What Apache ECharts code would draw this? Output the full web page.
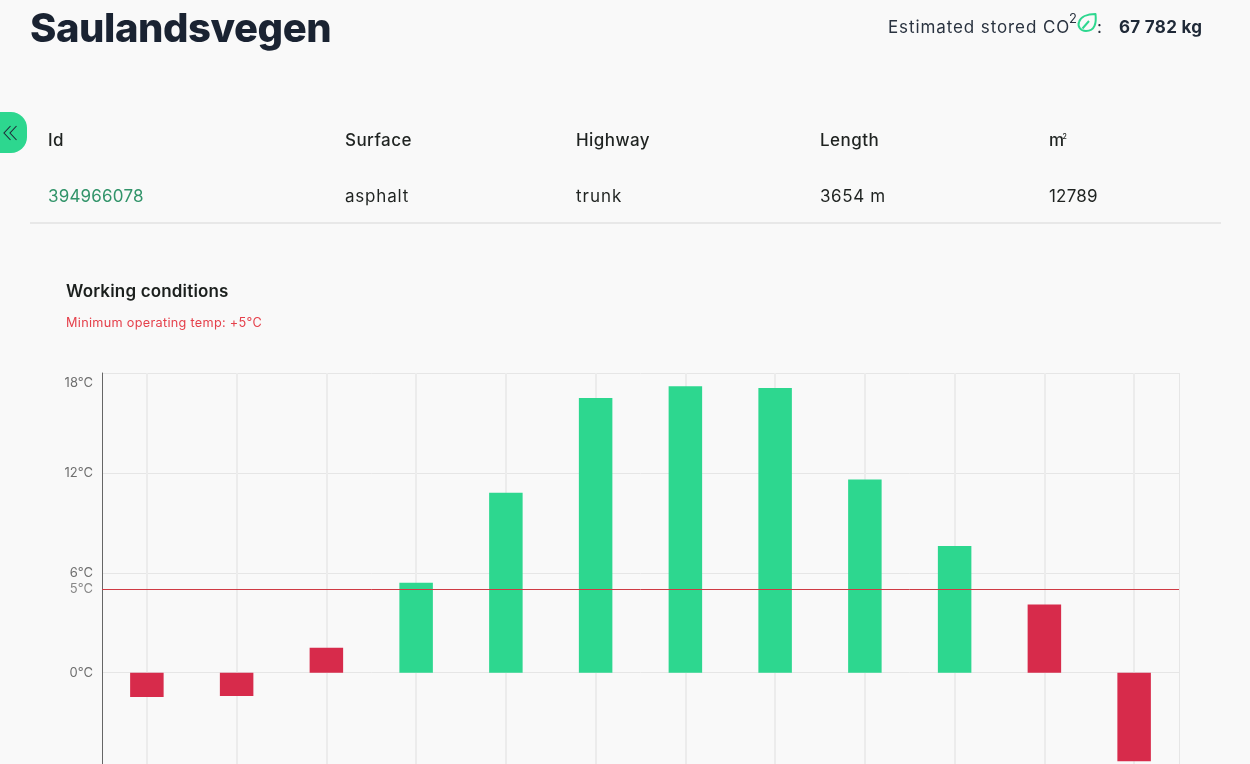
<!DOCTYPE html>
<html><head><meta charset="utf-8">
<script src="https://cdn.jsdelivr.net/npm/echarts@6/dist/echarts.min.js"></script>
<style>
html,body{margin:0;padding:0;width:1250px;height:764px;overflow:hidden;background:#f9f9f9;}
body{position:relative;font-family:Inter,"Noto Sans",sans-serif;color:#1f2321;}
.t{position:absolute;white-space:nowrap;line-height:1;}
.b{font-size:17px;letter-spacing:0.8px;}
.m{font-size:17px;font-weight:500;letter-spacing:0.45px;}
#chart{position:absolute;left:0;top:0;width:1250px;height:800px;}
</style></head>
<body>
<div id="chart"></div>
<div class="t" style="left:30px;top:8px;font-size:40px;font-weight:800;color:#1a2332;letter-spacing:-0.45px">Saulandsvegen</div>
<div class="t" style="left:888px;top:19px;font-size:17px;color:#2a3340;letter-spacing:0.9px">Estimated stored CO</div>
<div class="t" style="left:1069px;top:12px;font-size:13px;color:#2a3340">2</div>
<svg style="position:absolute;left:1075px;top:11px" width="24" height="23" viewBox="0 0 24 23"><path d="M20.5 3 C 21.5 12 20 20 11 20 C 5 20 2.5 15 4 11 C 5.5 6 12 3 20.5 3 Z M7.5 17.5 L14 10" fill="none" stroke="#2dd78f" stroke-width="2" stroke-linejoin="round"/></svg>
<div class="t" style="left:1097px;top:19px;font-size:17px;color:#2a3340">:</div>
<div class="t" style="left:1119px;top:19px;font-size:17px;font-weight:700;color:#1f2937;letter-spacing:0.3px">67 782 kg</div>
<div style="position:absolute;left:0;top:112px;width:27px;height:41px;background:#2dd78f;border-radius:0 16px 16px 0"></div>
<svg style="position:absolute;left:3px;top:124px" width="15" height="18" viewBox="0 0 15 18"><path d="M7.5 2 L1 9 L7.5 16 M13.5 2 L7 9 L13.5 16" fill="none" stroke="#1f2937" stroke-width="1.1"/></svg>
<div class="t m" style="left:48px;top:132px">Id</div>
<div class="t m" style="left:345px;top:132px">Surface</div>
<div class="t m" style="left:576px;top:132px">Highway</div>
<div class="t m" style="left:820px;top:132px">Length</div>
<div class="t m" style="left:1049px;top:132px">m<span style="font-size:7px;vertical-align:7px;margin-left:-2px">2</span></div>
<div class="t b" style="left:48px;top:188px;color:#32946a;letter-spacing:0.2px">394966078</div>
<div class="t b" style="left:345px;top:188px">asphalt</div>
<div class="t b" style="left:576px;top:188px;letter-spacing:1px">trunk</div>
<div class="t b" style="left:820px;top:188px;letter-spacing:0.6px">3654 m</div>
<div class="t b" style="left:1049px;top:188px;letter-spacing:0.2px">12789</div>
<div style="position:absolute;left:30px;top:222px;width:1191px;height:2px;background:#e8e8e8"></div>
<div class="t" style="left:66px;top:283px;font-size:17px;font-weight:600;color:#1b1f1d;letter-spacing:0.17px">Working conditions</div>
<div class="t" style="left:66px;top:317px;font-size:12.7px;color:#e5404b;letter-spacing:0.3px">Minimum operating temp: +5°C</div>
<script>
const months = ['Jan','Feb','Mar','Apr','May','Jun','Jul','Aug','Sep','Oct','Nov','Dec'];
const temps = [-1.47,-1.4,1.5,5.4,10.8,16.5,17.2,17.1,11.6,7.6,4.1,-5.33];
const minTemp = 5;
const yTicks = [18,12,6,0];
const green = '#2dd78f', red = '#d72b4b';
const chart = echarts.init(document.getElementById('chart'), null, {renderer:'canvas'});
chart.setOption({
  animation:false,
  backgroundColor:'transparent',
  grid:{left:102,right:71,top:373,height:399.5,containLabel:false},
  xAxis:{type:'category',data:months,boundaryGap:true,position:'bottom',
    axisLine:{show:false},axisTick:{show:false},axisLabel:{show:false},
    splitLine:{show:true,alignWithLabel:true,lineStyle:{color:'#ececec',width:2}}},
  yAxis:{type:'value',min:-6,max:18,interval:6,
    axisLine:{show:true,onZero:false,lineStyle:{color:'#666',width:1}},axisTick:{show:false},
    axisLabel:{margin:9,fontFamily:'Inter',fontSize:13,color:'#6e6e6e',verticalAlignMaxLabel:'top',padding:[4,0,0,0],
      formatter:v=>yTicks.includes(v)?v+'°C':''},
    splitLine:{show:true,lineStyle:{color:'#e6e6e6',width:1}}},
  series:[{type:'bar',barWidth:33.5,silent:true,
    data:temps.map(v=>({value:v,itemStyle:{color:v>=minTemp?green:red}})),
    markLine:{silent:true,symbol:'none',z:10,
      data:[{yAxis:minTemp}],
      lineStyle:{color:'#cf3a44',width:1,type:'solid'},
      label:{show:true,position:'start',distance:9,padding:[6,0,0,0],formatter:minTemp+'°C',fontFamily:'Inter',fontSize:13,color:'#888'}}
  }],
  graphic:[{type:'line',shape:{x1:1179.5,y1:373,x2:1179.5,y2:800},style:{stroke:'#e6e6e6',lineWidth:1},silent:true}]
});
</script>
</body></html>
